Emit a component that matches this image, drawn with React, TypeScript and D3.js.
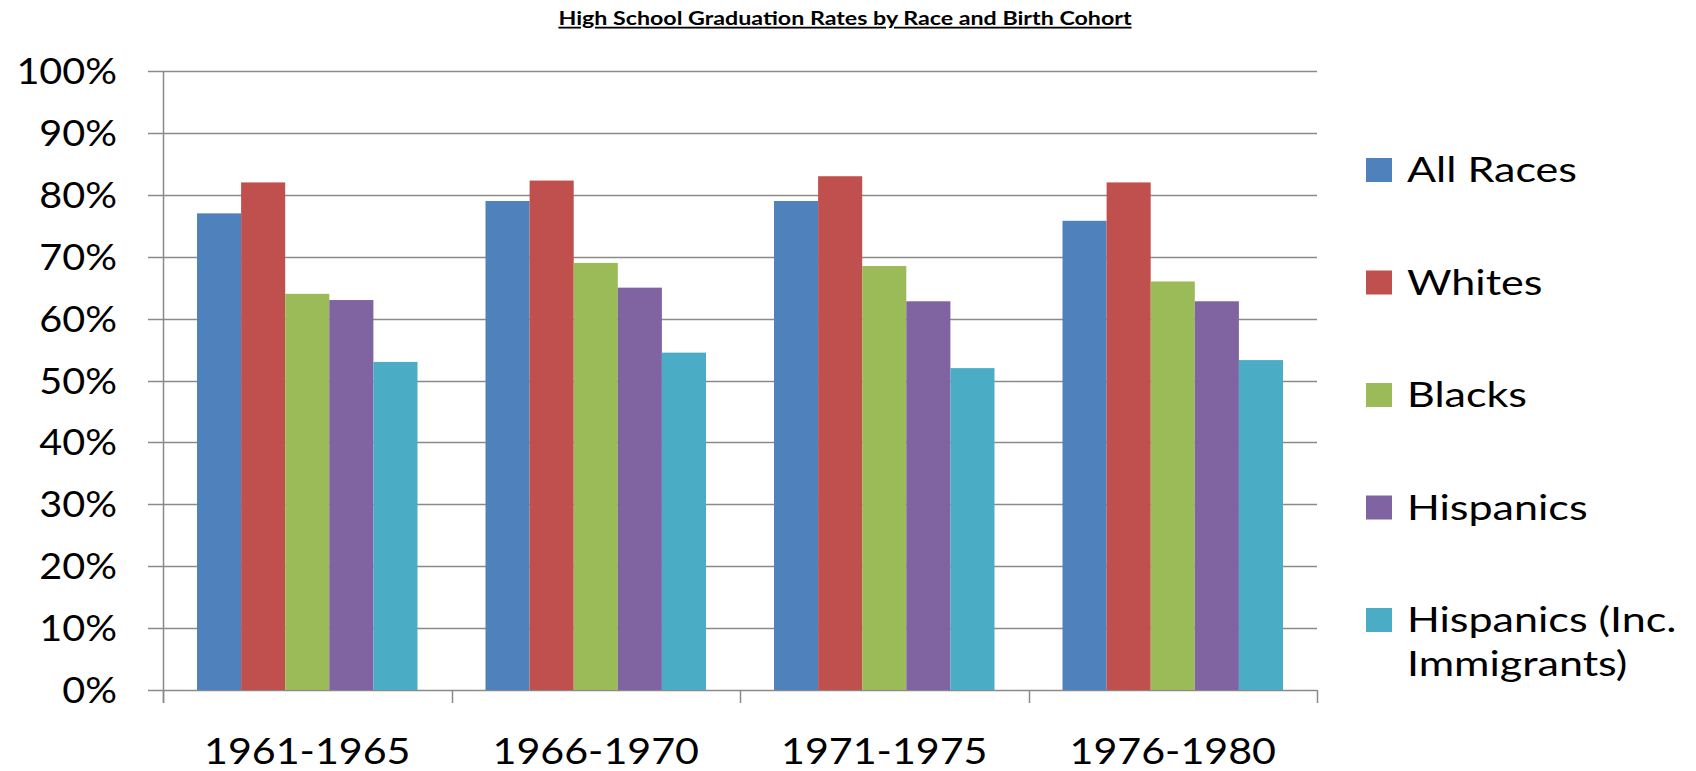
import React, { useEffect, useRef } from 'react';
import * as d3 from 'd3';

const cohorts = ['1961-1965', '1966-1970', '1971-1975', '1976-1980'];
const seriesNames = ['All Races', 'Whites', 'Blacks', 'Hispanics', 'Hispanics (Inc. Immigrants)'];
const allRaces = [77, 79, 79, 75.8];
const whites = [82, 82.3, 83, 82];
const blacks = [64, 69, 68.5, 66];
const hispanics = [63, 65, 62.8, 62.8];
const hispanicsInc = [53, 54.5, 52, 53.3];
const yTicks = [0, 10, 20, 30, 40, 50, 60, 70, 80, 90, 100];
const colors = ['#4F81BD', '#C0504D', '#9BBB59', '#8064A2', '#4BACC6'];

export default function App() {
  const chartRef = useRef<SVGSVGElement>(null);

  useEffect(() => {
    document.body.style.margin = '0';
    const width = 1696;
    const height = 771;
    const margin = { top: 71, right: 379, bottom: 81, left: 163 };
    const font = 'Lato, "Open Sans", sans-serif';
    const grid = '#8a8a8a';

    const values = [allRaces, whites, blacks, hispanics, hispanicsInc];

    const svg = d3.select(chartRef.current);
    svg.selectAll('*').remove();
    svg.attr('width', width).attr('height', height);

    const x0 = d3.scaleBand()
      .domain(cohorts)
      .range([margin.left, width - margin.right]);

    const x1 = d3.scaleBand()
      .domain(seriesNames)
      .range([34, x0.bandwidth() - 34]);

    const y = d3.scaleLinear()
      .domain([0, 100])
      .range([height - margin.bottom, margin.top]);

    // gridlines with the little tick stubs on the left
    svg.append('g')
      .selectAll('line')
      .data(yTicks)
      .enter()
      .append('line')
      .attr('x1', margin.left - 15)
      .attr('x2', width - margin.right)
      .attr('y1', d => Math.round(y(d)) + 0.5)
      .attr('y2', d => Math.round(y(d)) + 0.5)
      .attr('stroke', grid)
      .attr('stroke-width', 1.5);

    svg.append('g')
      .selectAll('text')
      .data(yTicks)
      .enter()
      .append('text')
      .attr('transform', d => `translate(117,${y(d) + 13}) scale(1.1,1)`)
      .attr('text-anchor', 'end')
      .attr('font-family', font)
      .attr('font-size', 36)
      .attr('fill', '#000')
      .text(d => `${d}%`);

    // bars
    const groups = svg.append('g')
      .selectAll('g')
      .data(cohorts)
      .enter()
      .append('g')
      .attr('transform', d => `translate(${x0(d)},0)`);

    groups.selectAll('rect')
      .data((_, i) => seriesNames.map((s, k) => ({ s, k, v: values[k][i] })))
      .enter()
      .append('rect')
      .attr('x', d => x1(d.s))
      .attr('y', d => y(d.v))
      .attr('width', x1.bandwidth())
      .attr('height', d => y(0) - y(d.v))
      .attr('fill', d => colors[d.k]);

    // y axis line
    svg.append('line')
      .attr('x1', margin.left + 0.5)
      .attr('x2', margin.left + 0.5)
      .attr('y1', margin.top)
      .attr('y2', height - margin.bottom + 13)
      .attr('stroke', grid)
      .attr('stroke-width', 1.5);

    // category separators below the axis
    const bounds = cohorts.map(c => x0(c)).concat([width - margin.right]);
    svg.append('g')
      .selectAll('line')
      .data(bounds)
      .enter()
      .append('line')
      .attr('x1', d => Math.round(d) + 0.5)
      .attr('x2', d => Math.round(d) + 0.5)
      .attr('y1', y(0))
      .attr('y2', y(0) + 13)
      .attr('stroke', grid)
      .attr('stroke-width', 1.5);

    svg.append('g')
      .selectAll('text')
      .data(cohorts)
      .enter()
      .append('text')
      .attr('transform', d => `translate(${x0(d) + x0.bandwidth() / 2},764) scale(1.145,1)`)
      .attr('text-anchor', 'middle')
      .attr('font-family', font)
      .attr('font-size', 36)
      .attr('fill', '#000')
      .text(d => d);

    // title
    svg.append('text')
      .attr('transform', 'translate(845,25) scale(1.29,1)')
      .attr('text-anchor', 'middle')
      .attr('font-family', font)
      .attr('font-weight', 'bold')
      .attr('font-size', 18)
      .attr('text-decoration', 'underline')
      .attr('fill', '#000')
      .text('High School Graduation Rates by Race and Birth Cohort');

    // legend
    const legendY = d3.scalePoint()
      .domain(seriesNames)
      .range([170, 620]);

    const legend = svg.append('g')
      .selectAll('g')
      .data(seriesNames)
      .enter()
      .append('g')
      .attr('transform', d => `translate(1366,${legendY(d)})`);

    legend.append('rect')
      .attr('x', 0)
      .attr('y', -12)
      .attr('width', 26)
      .attr('height', 24)
      .attr('fill', (_, i) => colors[i]);

    legend.append('text')
      .attr('transform', 'translate(41,12) scale(1.23,1)')
      .attr('font-family', font)
      .attr('font-size', 35)
      .attr('fill', '#000')
      .each(function (d) {
        const lines = d === 'Hispanics (Inc. Immigrants)' ? ['Hispanics (Inc.', 'Immigrants)'] : [d];
        lines.forEach((l, j) => {
          d3.select(this)
            .append('tspan')
            .attr('x', 0)
            .attr('y', j * 44)
            .text(l);
        });
      });
  }, []);

  return <svg ref={chartRef} style={{ display: 'block' }} />;
}
